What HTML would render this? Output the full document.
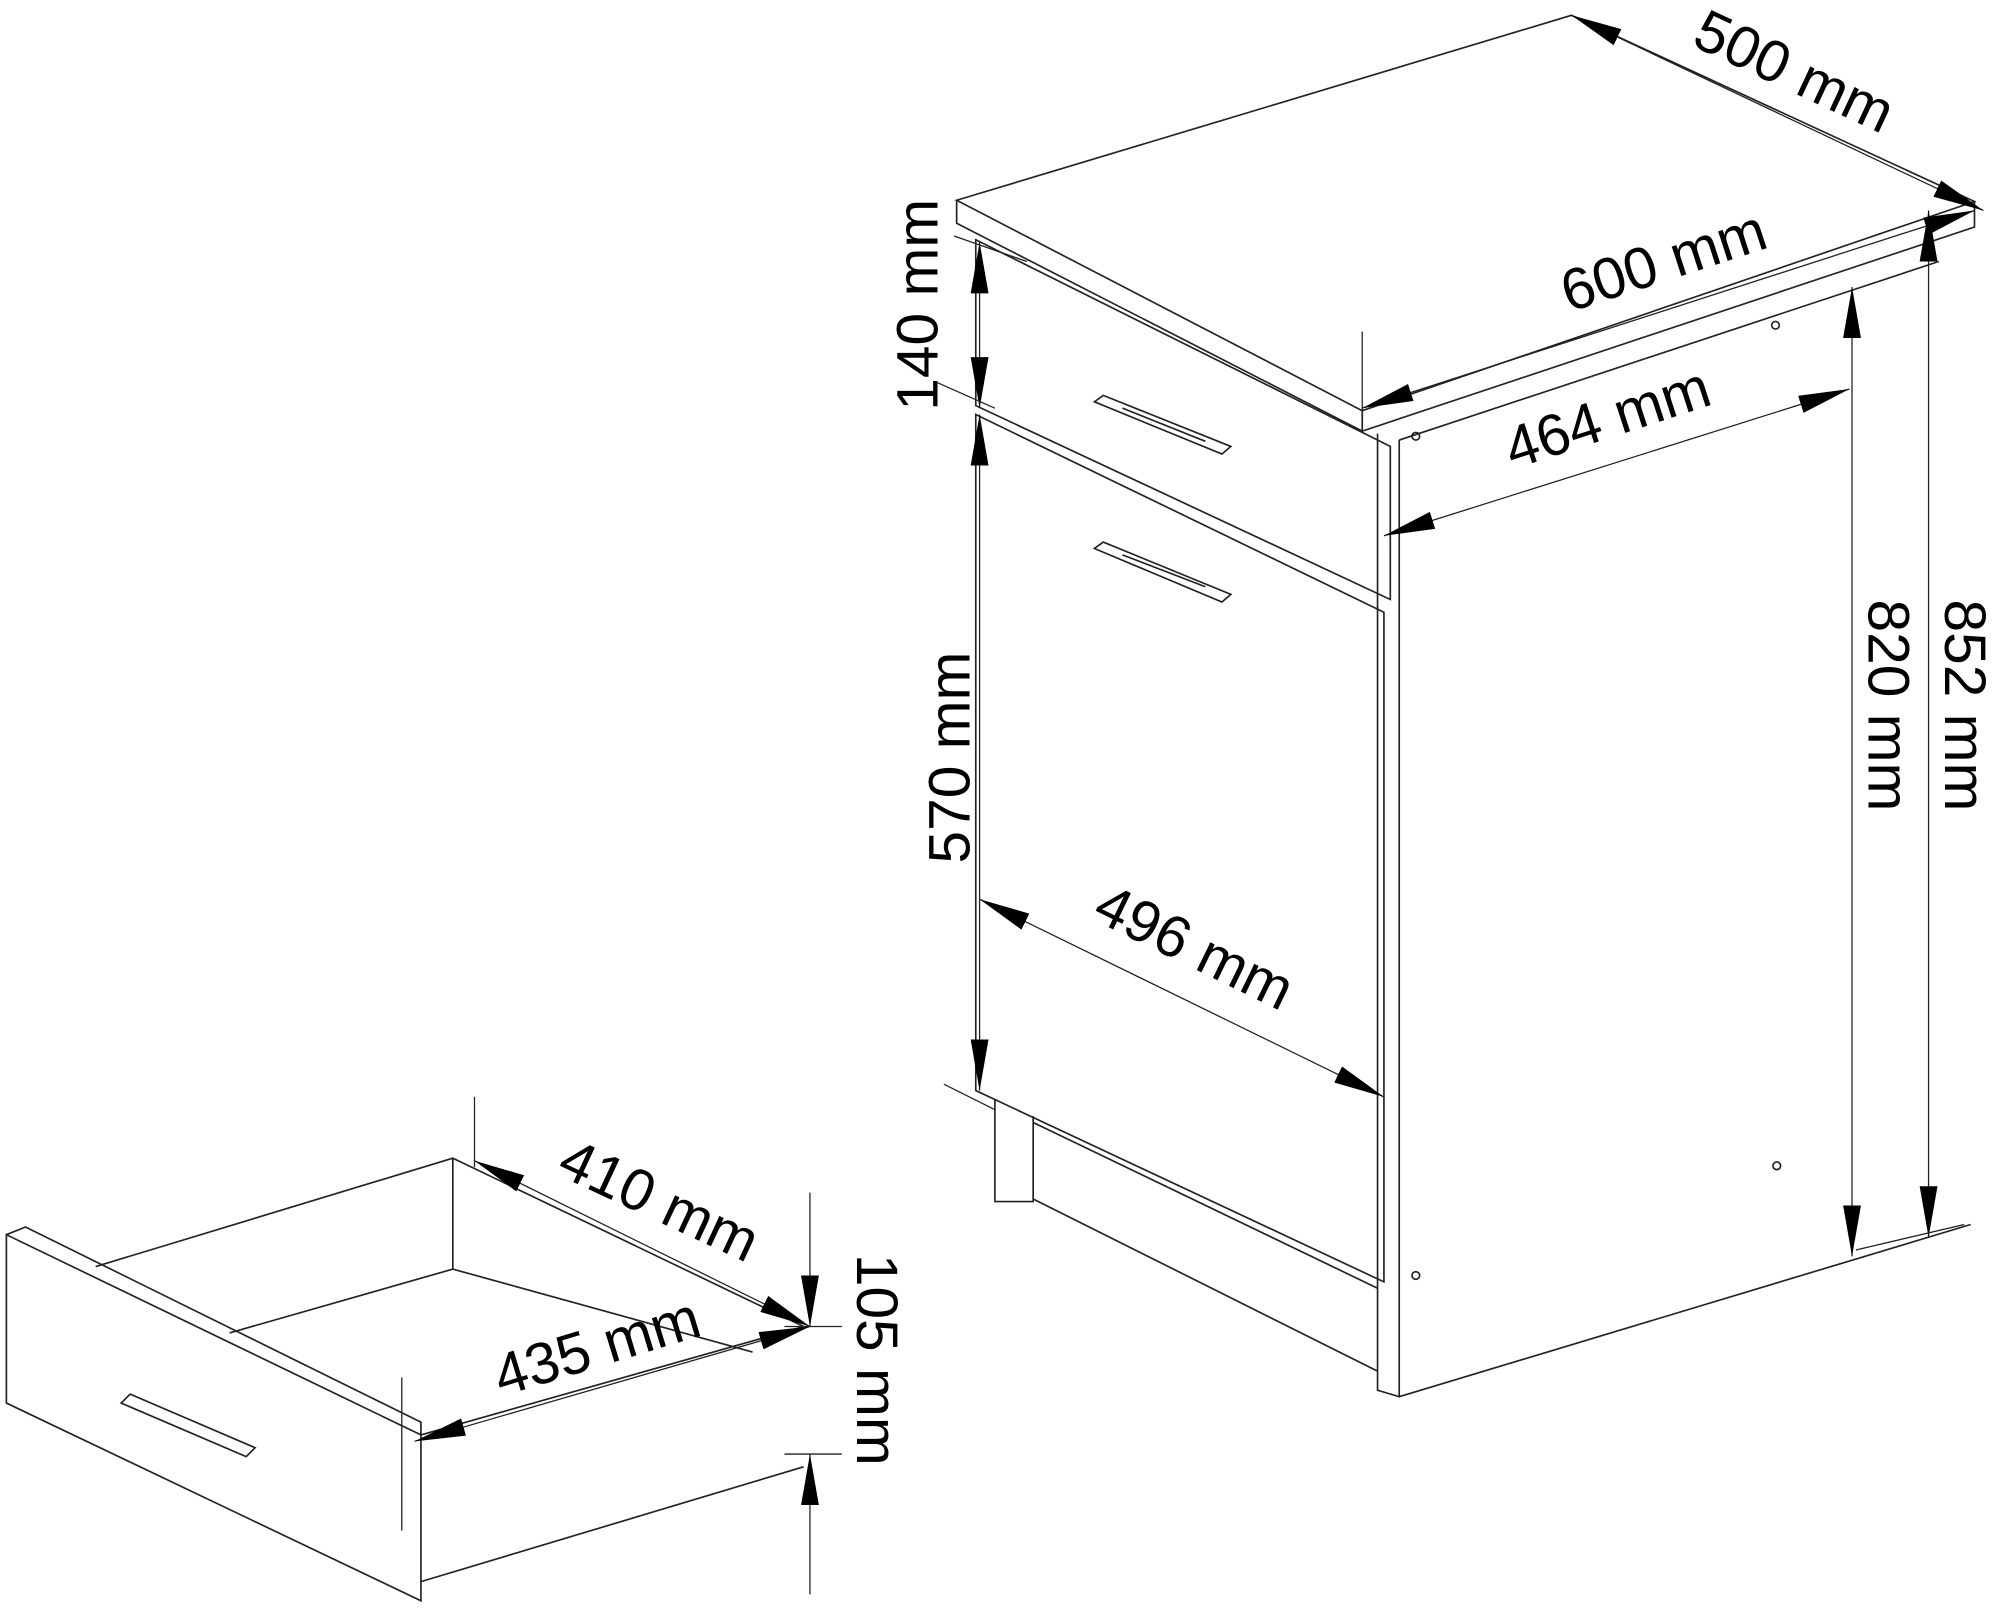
<!DOCTYPE html>
<html><head><meta charset="utf-8"><style>html,body{margin:0;padding:0;background:#fff}svg{display:block}</style></head><body>
<svg width="2000" height="1613" viewBox="0 0 1568 1264.6" xmlns="http://www.w3.org/2000/svg" font-family="Liberation Sans, sans-serif">
<defs>
<marker id="b" viewBox="0 0 40 14" refX="40" refY="7" markerWidth="40" markerHeight="14" markerUnits="userSpaceOnUse" orient="auto-start-reverse"><path d="M0,0L40,7L0,14z" fill="#000"/></marker></defs>
<g fill="none" stroke="#222" stroke-width="1.3">
<path d="M750,157L1232,12L1548,158L1068,322Z"/>
<path d="M750,157L750,175L1068,338L1068,322M1068,338L1548,178L1548,158"/>
<path d="M1080,340L1080,1090L1097,1095L1097,345"/>
<path d="M1097,345L1520,205M1097,1095L1545,960"/>
<path d="M765,188L1090,350L1090,470L765,318Z"/>
<path d="M765,325L1085,480L1085,1005L765,855Z"/>
<path d="M780,862L780,942L810,942L810,875M810,880L1080,1010M810,940L1080,1075"/>
<path d="M858,315L865,310L965,350L958,356Z M880,320L945,346"/>
<path d="M858,430L865,425L965,466L958,472Z M880,435L945,460"/>
<path d="M5,968L330,1125L330,1255L5,1100Z"/>
<path d="M5,968L20,962L330,1115L330,1125"/>
<path d="M75,993L355,908L630,1040M355,908L355,995M180,1045L355,995L590,1060"/>
<path d="M330,1125L630,1040M330,1240L630,1150"/>
<path d="M95,1100L102,1093L200,1135L193,1142Z"/>
<circle cx="1110" cy="342" r="3"/><circle cx="1392" cy="255" r="3"/><circle cx="1393" cy="914" r="3"/><circle cx="1110" cy="1000" r="3"/>
</g>
<g stroke="#222" stroke-width="1">
<path d="M1232,12L1555,165" marker-end="url(#b)" marker-start="url(#b)"/>
<path d="M1068,320L1548,165" marker-end="url(#b)" marker-start="url(#b)"/>
<path d="M1085,420L1450,305" marker-end="url(#b)" marker-start="url(#b)"/>
<path d="M768,705L1085,860" marker-end="url(#b)" marker-start="url(#b)"/>
<path d="M768,190L768,320" marker-end="url(#b)" marker-start="url(#b)"/>
<path d="M768,325L768,855" marker-end="url(#b)" marker-start="url(#b)"/>
<path d="M1452,225L1452,985" marker-end="url(#b)" marker-start="url(#b)"/>
<path d="M1512,165L1512,970" marker-end="url(#b)" marker-start="url(#b)"/>
<path d="M372,910L635,1040" marker-end="url(#b)" marker-start="url(#b)"/>
<path d="M325,1130L635,1040" marker-end="url(#b)" marker-start="url(#b)"/>
<path d="M635,935L635,1040" marker-end="url(#b)"/>
<path d="M635,1250L635,1140" marker-end="url(#b)"/>
<path d="M1068,260L1068,330M1455,980L1540,960M740,850L780,870M372,860L372,915M315,1080L315,1200M615,1040L660,1040M615,1140L660,1140M735,300L780,320M748,185L805,205"/>
</g>
<g font-size="46" fill="#000">
<text transform="translate(1325,35) rotate(25)">500 mm</text>
<text transform="translate(1230,245) rotate(-18)">600 mm</text>
<text transform="translate(1186,368) rotate(-18)">464 mm</text>
<text transform="translate(855,720) rotate(26)">496 mm</text>
<text transform="translate(735,322) rotate(-90)">140 mm</text>
<text transform="translate(760,677) rotate(-90)">570 mm</text>
<text transform="translate(1465,470) rotate(90)">820 mm</text>
<text transform="translate(1525,470) rotate(90)">852 mm</text>
<text transform="translate(435,920) rotate(25)">410 mm</text>
<text transform="translate(393,1095) rotate(-17)">435 mm</text>
<text transform="translate(672,983) rotate(90)">105 mm</text>
</g>
</svg>
</body></html>
